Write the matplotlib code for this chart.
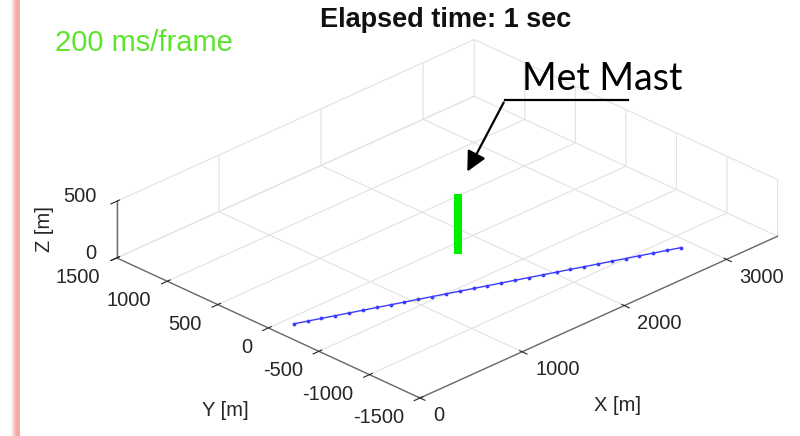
import numpy as np
import matplotlib
matplotlib.use("Agg")
import matplotlib.pyplot as plt
from mpl_toolkits.mplot3d import proj3d

# axis ranges and ticks
x_lim = (0, 3500)
y_lim = (-1500, 1500)
z_lim = (0, 500)
x_ticks = [0, 1000, 2000, 3000]
y_ticks = [-1500, -1000, -500, 0, 500, 1000, 1500]
z_ticks = [0, 500]

# met mast (vertical bar)
mast_x = [1730, 1730]
mast_y = [-130, -130]
mast_z = [0, 530]

# blue track
track_x = [170, 268, 365, 463, 560, 658, 755, 853, 950, 1048, 1145, 1243, 1340, 1438, 1535,
           1633, 1730, 1828, 1925, 2023, 2120, 2218, 2315, 2413, 2510, 2608, 2705, 2803, 2900]
track_y = [-80, -118, -156, -195, -233, -271, -309, -348, -386, -424, -462, -500, -539, -577, -615,
           -653, -691, -730, -768, -806, -844, -883, -921, -959, -997, -1035, -1074, -1112, -1150]
track_z = [0] * len(track_x)

plt.rcParams['font.family'] = ['Liberation Sans', 'DejaVu Sans']
plt.rcParams['axes.unicode_minus'] = False
plt.rcParams['grid.color'] = '#e2e2e2'
plt.rcParams['grid.linewidth'] = 0.8

W, H = 800, 436
fig = plt.figure(figsize=(W / 100, H / 100), dpi=100)
fig.patch.set_facecolor('white')

# big axes so nothing gets clipped by the axes patch
ax = fig.add_axes([-0.125, -0.6468, 1.25, 2.294], projection='3d', proj_type='ortho')
ax.view_init(elev=27.2, azim=-134.7)
ax.set_xlim(*x_lim)
ax.set_ylim(*y_lim)
ax.set_zlim(*z_lim)
aspect = (3500, 3000, 443)
ax.set_box_aspect(aspect)
ax.set_xticks(x_ticks)
ax.set_yticks(y_ticks)
ax.set_zticks(z_ticks)
ax.patch.set_alpha(0)

for axis in (ax.xaxis, ax.yaxis, ax.zaxis):
    axis.set_pane_color((1, 1, 1, 0))
    axis.pane.set_edgecolor('#e2e2e2')
    axis.line.set_color('#6a6a6a')
    axis.line.set_linewidth(1.0)
ax.tick_params(axis='both', colors='#262626', labelsize=14.5)
ax.tick_params(axis='x', pad=8)
ax.tick_params(axis='y', pad=9)
for t in ax.xaxis.get_major_ticks():
    t.label1.set_horizontalalignment('left')
for t in ax.yaxis.get_major_ticks():
    t.label1.set_horizontalalignment('right')
for t in ax.zaxis.get_major_ticks():
    t.label1.set_horizontalalignment('right')
    t.label1.set_verticalalignment('baseline')

ax.plot(track_x, track_y, track_z, color='#3c3cff', lw=1.0, marker='.', ms=3.5)
ax.plot(mast_x, mast_y, mast_z, color='#00ee00', lw=5.8, solid_capstyle='butt')


def to_px(x, y, z):
    xs, ys, _ = proj3d.proj_transform(x, y, z, ax.get_proj())
    return ax.transData.transform((xs, ys))


# fit the projected box onto the reference pixel positions
tA = np.array([420, H - 398])   # (0, -1500, 0)
tC = np.array([777, H - 235])   # (3500, -1500, 0)
fig.canvas.draw()
pA = to_px(0, -1500, 0)
pC = to_px(3500, -1500, 0)
s = np.linalg.norm(tC - tA) / np.linalg.norm(pC - pA)
ax.set_box_aspect(aspect, zoom=s)
fig.canvas.draw()
pA = to_px(0, -1500, 0)
d = tA - pA
pos = ax.get_position(original=True)
ax.set_position(pos.translated(d[0] / W, d[1] / H))

# texts
fig.text(446 / W, 1 - 20 / H, 'Elapsed time: 1 sec', ha='center', va='center',
         fontsize=19.5, fontweight='bold', color='#111111')
fig.text(55 / W, 1 - 43 / H, '200 ms/frame', ha='left', va='center',
         fontsize=21, color='#5ce52c')
fig.text(618 / W, 1 - 405 / H, 'X [m]', ha='center', va='center', fontsize=14.5, color='#262626')
fig.text(225 / W, 1 - 410 / H, 'Y [m]', ha='center', va='center', fontsize=14.5, color='#262626')
fig.text(45 / W, 1 - 229 / H, 'Z [m]', ha='center', va='center', rotation=90,
         fontsize=14.5, color='#262626')

# Met Mast callout
fig.text(522 / W, 1 - 90 / H, 'Met Mast', ha='left', va='baseline',
         fontsize=27, family='Lato', color='black')
fig.add_artist(plt.Line2D([505 / W, 628 / W], [1 - 100 / H, 1 - 100 / H], color='black', lw=1.6))
fig.add_artist(matplotlib.patches.FancyArrowPatch(
    (505 / W, 1 - 100 / H), (466 / W, 1 - 174 / H), transform=fig.transFigure,
    arrowstyle='-|>,head_length=12,head_width=6', color='black', lw=1.6, mutation_scale=1))

# pink strip on the left
bax = fig.add_axes([10 / W, 0, 10 / W, 1])
grad = np.clip(np.linspace(0, 1, 64) / 0.6, 0, 1)[None, :] ** 1.3
pink = np.array([0.96, 0.66, 0.66])
img = 1 - grad[..., None] * (1 - pink)[None, None, :]
bax.imshow(img, aspect='auto', extent=(0, 1, 0, 1))
bax.set_axis_off()

fig.savefig('out.png', dpi=100)
